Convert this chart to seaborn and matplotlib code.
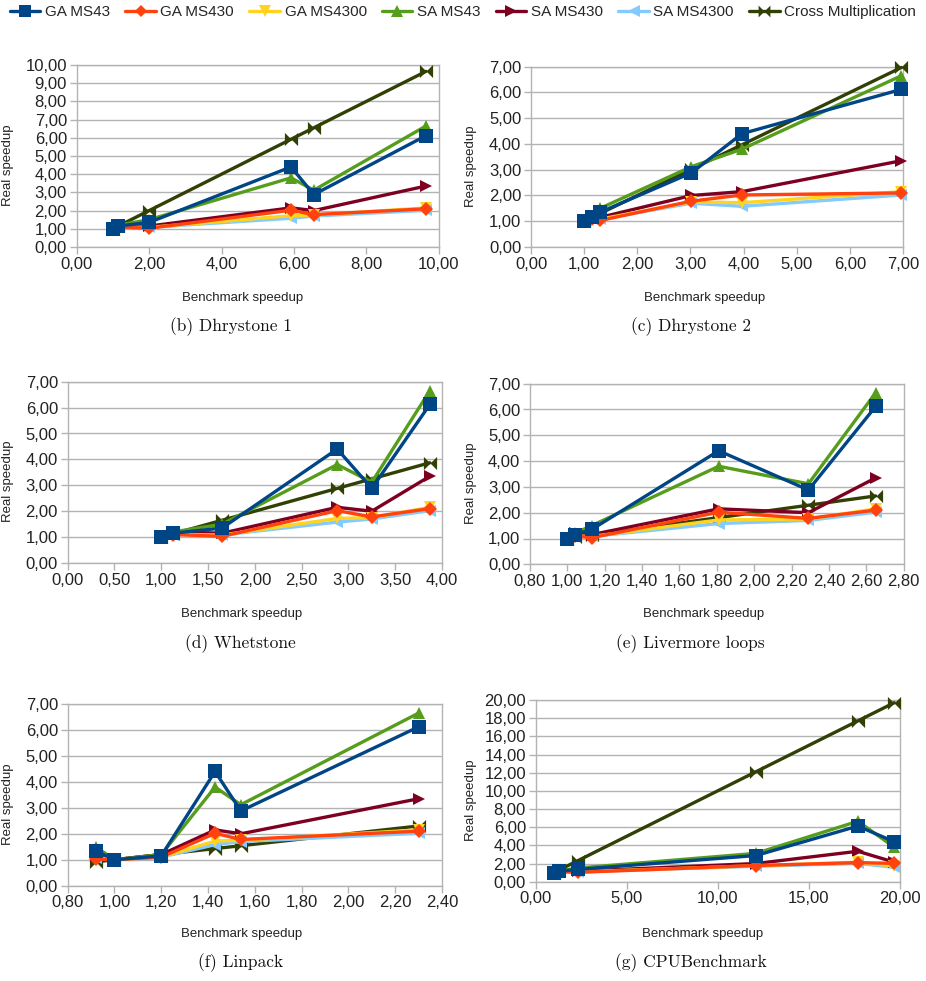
import numpy as np
import pandas as pd
import matplotlib
matplotlib.use("Agg")
import matplotlib.pyplot as plt
from matplotlib.path import Path
from matplotlib.lines import Line2D
from matplotlib.ticker import FuncFormatter, MultipleLocator
import seaborn as sns

sns.set_theme(style="white")
plt.rcParams["font.family"] = ["Liberation Sans", "DejaVu Sans"]

# Real speedup of each scheduling series on the six machines (M1..M6)
SERIES = ["GA MS43", "GA MS430", "GA MS4300", "SA MS43", "SA MS430", "SA MS4300",
          "Cross Multiplication"]
GA_MS43 = [1.00, 1.15, 1.35, 4.40, 2.88, 6.12]
GA_MS430 = [1.00, 1.10, 1.03, 2.02, 1.78, 2.10]
GA_MS4300 = [1.00, 1.10, 1.08, 1.72, 1.75, 2.15]
SA_MS43 = [1.00, 1.20, 1.50, 3.80, 3.12, 6.65]
SA_MS430 = [1.00, 1.20, 1.15, 2.15, 2.00, 3.35]
SA_MS4300 = [1.00, 1.10, 1.08, 1.58, 1.70, 2.02]

# Benchmark speedup of the six machines for each benchmark
DHRYSTONE1 = [1.00, 1.15, 2.00, 5.92, 6.55, 9.65]
DHRYSTONE2 = [1.00, 1.15, 1.30, 3.97, 3.02, 6.97]
WHETSTONE = [1.00, 1.13, 1.65, 2.88, 3.25, 3.87]
LIVERMORE = [1.00, 1.04, 1.13, 1.81, 2.29, 2.65]
LINPACK = [1.00, 1.20, 0.92, 1.43, 1.54, 2.30]
CPUBENCH = [1.00, 1.30, 2.30, 19.70, 12.10, 17.70]

# Cross multiplication real speedup for each benchmark
CROSS_DHRYSTONE1 = [1.00, 1.15, 2.00, 5.92, 6.55, 9.65]
CROSS_DHRYSTONE2 = [1.00, 1.15, 1.30, 3.97, 3.02, 6.97]
CROSS_WHETSTONE = [1.00, 1.13, 1.65, 2.88, 3.25, 3.87]
CROSS_LIVERMORE = [1.00, 1.04, 1.13, 1.81, 2.29, 2.65]
CROSS_LINPACK = [1.00, 1.20, 0.92, 1.43, 1.54, 2.30]
CROSS_CPUBENCH = [1.00, 1.30, 2.30, 19.70, 12.10, 17.70]

CAPTIONS = ["(b) Dhrystone 1", "(c) Dhrystone 2", "(d) Whetstone",
            "(e) Livermore loops", "(f) Linpack", "(g) CPUBenchmark"]

COLORS = ["#004586", "#ff420e", "#ffd320", "#579d1c", "#7e0021", "#83caff", "#314004"]

# bow-tie marker for the cross multiplication series
BOWTIE = Path([(-1, -1), (1, 1), (1, -1), (-1, 1), (-1, -1)],
              [Path.MOVETO, Path.LINETO, Path.LINETO, Path.LINETO, Path.CLOSEPOLY])
MARKERS = ["s", "D", "v", "^", ">", "<", BOWTIE]
MSIZES = [9.5, 7, 9, 9, 9, 9, 9.5]

panels = [
    (DHRYSTONE1, CROSS_DHRYSTONE1, (0, 10), 2, (0, 10), 1),
    (DHRYSTONE2, CROSS_DHRYSTONE2, (0, 7), 1, (0, 7), 1),
    (WHETSTONE, CROSS_WHETSTONE, (0, 4), 0.5, (0, 7), 1),
    (LIVERMORE, CROSS_LIVERMORE, (0.8, 2.8), 0.2, (0, 7), 1),
    (LINPACK, CROSS_LINPACK, (0.8, 2.4), 0.2, (0, 7), 1),
    (CPUBENCH, CROSS_CPUBENCH, (0, 20), 5, (0, 20), 2),
]

# axes boxes in pixels: left, right, top, bottom
W, H = 926, 981
BOXES = [
    (76.7, 438.7, 65.0, 247.0),
    (531.0, 903.0, 66.7, 247.0),
    (67.7, 442.0, 381.7, 563.0),
    (530.0, 903.7, 383.7, 564.3),
    (67.7, 442.0, 704.0, 885.7),
    (535.7, 899.7, 700.0, 881.7),
]
XLAB_POS = [(243, 292), (705, 292), (242, 608), (704, 608), (242, 928), (703, 928)]
YLAB_X = [8, 471, 8, 471, 8, 471]
CAP_POS = [(231, 327), (691, 327), (240, 644), (690, 644), (241, 963), (691, 963)]

fig = plt.figure(figsize=(W / 100, H / 100), dpi=100)
fmt = FuncFormatter(lambda v, p: f"{v:.2f}".replace(".", ","))
GRID = "#b3b3b3"

for i, (bench, cross, xlim, xstep, ylim, ystep) in enumerate(panels):
    l, r, t, b = BOXES[i]
    ax = fig.add_axes([l / W, 1 - b / H, (r - l) / W, (b - t) / H])
    reals = [GA_MS43, GA_MS430, GA_MS4300, SA_MS43, SA_MS430, SA_MS4300, cross]
    for k, (name, real) in enumerate(zip(SERIES, reals)):
        df = pd.DataFrame({"Benchmark speedup": bench, "Real speedup": real})
        sns.lineplot(data=df, x="Benchmark speedup", y="Real speedup", ax=ax,
                     sort=True, estimator=None, color=COLORS[k], lw=2.4,
                     marker=MARKERS[k], markersize=MSIZES[k],
                     markeredgecolor=COLORS[k], markeredgewidth=0,
                     zorder=10 - k, clip_on=False)
    ax.set_xlim(*xlim)
    ax.set_ylim(*ylim)
    ax.xaxis.set_major_locator(MultipleLocator(xstep))
    ax.yaxis.set_major_locator(MultipleLocator(ystep))
    ax.xaxis.set_major_formatter(fmt)
    ax.yaxis.set_major_formatter(fmt)
    ax.grid(axis="y", color=GRID, lw=1.0)
    ax.grid(axis="x", visible=False)
    ax.set_axisbelow(True)
    for s in ax.spines.values():
        s.set_color(GRID)
        s.set_linewidth(1.0)
    ax.tick_params(axis="both", direction="out", length=5, width=1.0, color=GRID,
                   labelsize=12, labelcolor="#222222", pad=2,
                   bottom=True, left=True)
    ax.set_xlabel("Benchmark speedup", fontsize=9.5, color="#222222")
    ax.set_ylabel("Real speedup", fontsize=9.5, color="#222222")
    xl, yl = XLAB_POS[i]
    ax.xaxis.set_label_coords((xl - l) / (r - l), -(yl - b) / (b - t))
    ax.yaxis.label.set_verticalalignment("center")
    ax.yaxis.set_label_coords((YLAB_X[i] - l) / (r - l), 0.45)
    cx, cy = CAP_POS[i]
    fig.text(cx / W, 1 - cy / H, CAPTIONS[i], ha="center", va="center",
             fontsize=12.5, family=["cmr10", "DejaVu Serif"], color="#111111")

handles = [Line2D([], [], color=COLORS[k], lw=2.4, marker=MARKERS[k],
                  markersize=MSIZES[k] - 1, markeredgewidth=0)
           for k in range(len(SERIES))]
fig.legend(handles, SERIES, loc="center", bbox_to_anchor=(0.5, 1 - 12 / H), ncol=7,
           frameon=False, fontsize=11, handlelength=2.0, columnspacing=1.0,
           handletextpad=0.3, borderaxespad=0)

fig.savefig("out.png", dpi=100)
